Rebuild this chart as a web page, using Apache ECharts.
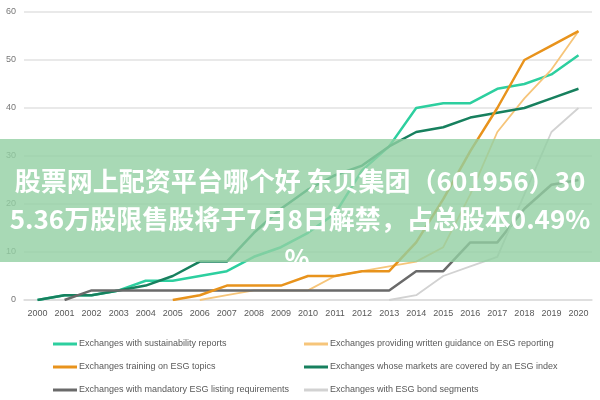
<!DOCTYPE html>
<html><head><meta charset="utf-8">
<script src="https://cdn.jsdelivr.net/npm/echarts@6/dist/echarts.min.js"></script>
<style>html,body{margin:0;padding:0;background:#fff}#c{width:600px;height:400px}</style>
</head><body><div id="c"></div>
<script>
var years = ['2000','2001','2002','2003','2004','2005','2006','2007','2008','2009','2010','2011','2012','2013','2014','2015','2016','2017','2018','2019','2020'];
var yTicks = [0,10,20,30,40,50,60];
var sustain   = [0,1,1,2,4,4,5,6,9,11,14,18,27,32,40,41,41,44,45,47,51];
var guidance  = ['-','-','-','-','-','-',0,1,2,2,2,5,6,7,8,11,22,35,42,48,56];
var training  = ['-','-','-','-','-',0,1,3,3,3,5,5,6,6,12,21,31,40,50,53,56];
var indexCov  = [0,1,1,2,3,5,8,8,14,19,23,26,28,32,35,36,38,39,40,42,44];
var mandatory = ['-',0,2,2,2,2,2,2,2,2,2,2,2,2,6,6,12,12,19,24,25];
var bond      = ['-','-','-','-','-','-','-','-','-','-','-','-','-',0,1,5,7,9,22,35,40];
var names = ['Exchanges with sustainability reports','Exchanges providing written guidance on ESG reporting','Exchanges training on ESG topics','Exchanges whose markets are covered by an ESG index','Exchanges with mandatory ESG listing requirements','Exchanges with ESG bond segments'];
var bannerLines = ['股票网上配资平台哪个好 东贝集团（601956）30','5.36万股限售股将于7月8日解禁，占总股本0.49%','%'];

var colors = ['#2dcf9f','#f6c57a','#e8931c','#17805e','#6a6a6a','#d2d2d2'];
var widths = [2.5,1.8,2.5,2.5,2.5,1.8];
var datas = [sustain,guidance,training,indexCov,mandatory,bond];
var series = datas.map(function(d,i){return {name:names[i],type:'line',data:d,symbol:'none',
  lineStyle:{color:colors[i],width:widths[i]},itemStyle:{color:colors[i]},z:2+(i===2?1:0)};});

var chart = echarts.init(document.getElementById('c'));
var legendText = {color:'#595959',fontSize:9,fontFamily:'Liberation Sans, Arial, sans-serif',lineHeight:12,padding:[0,0,0,-3]};
chart.setOption({
  animation:false,
  grid:{left:24,right:8,top:12,bottom:100},
  xAxis:{type:'category',data:years,boundaryGap:true,
    axisLine:{lineStyle:{color:'#dcdcdc',width:1.5}},axisTick:{show:false},
    axisLabel:{color:'#595959',fontSize:9,margin:9,fontFamily:'Liberation Sans, sans-serif'}},
  yAxis:{type:'value',min:0,max:60,interval:10,
    axisLine:{show:false},axisTick:{show:false},
    splitLine:{lineStyle:{color:'#e2e2e2',width:1.5}},
    axisLabel:{color:'#777',fontSize:9,margin:8,fontFamily:'Liberation Sans, sans-serif',
      formatter:function(v){return yTicks.indexOf(v)>=0?String(v):'';}}},
  legend:[
    {orient:'vertical',left:53,top:338,width:240,height:62,padding:0,itemWidth:24,itemHeight:3,icon:'rect',itemGap:11,
     data:[names[0],names[2],names[4]],textStyle:legendText},
    {orient:'vertical',left:304,top:338,width:290,height:62,padding:0,itemWidth:24,itemHeight:3,icon:'rect',itemGap:11,
     data:[names[1],names[3],names[5]],textStyle:legendText}
  ],
  graphic:[
    {type:'rect',z:100,shape:{x:0,y:139,width:600,height:123},style:{fill:'rgba(146,208,162,0.8)'}},
    {type:'text',z:101,style:{text:bannerLines[0],x:300,y:181,align:'center',verticalAlign:'middle',
      fill:'#fff',font:'bold 26px "Noto Sans CJK SC"'}},
    {type:'text',z:101,style:{text:bannerLines[1],x:300,y:219,align:'center',verticalAlign:'middle',
      fill:'#fff',font:'bold 26px "Noto Sans CJK SC"'}},
    {type:'text',z:101,style:{text:bannerLines[2],x:297,y:258,align:'center',verticalAlign:'middle',
      fill:'#fff',font:'bold 26px "Noto Sans CJK SC"'}},
    {type:'rect',z:102,shape:{x:282,y:262,width:30,height:9},style:{fill:'#fff'}}
  ],
  series:series
});
</script></body></html>
